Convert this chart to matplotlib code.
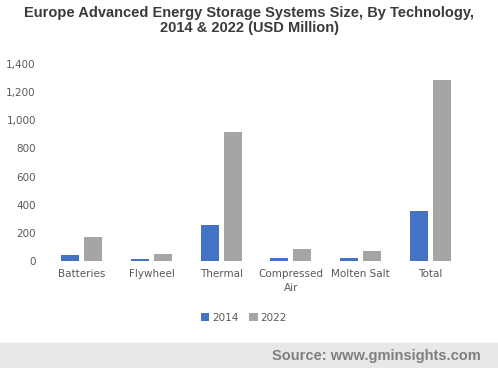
import numpy as np
import matplotlib
matplotlib.use("Agg")
import matplotlib.pyplot as plt

categories = ["Batteries", "Flywheel", "Thermal", "Compressed\nAir", "Molten Salt", "Total"]
values_2014 = [40, 12, 255, 19, 19, 352]
values_2022 = [170, 50, 914, 83, 71, 1285]

fig = plt.figure(figsize=(4.98, 3.68), dpi=100)
ax = fig.add_axes([47/498, 1 - 261/368, (465-47)/498, (261-64)/368])

x = np.arange(len(categories))
w = 0.26
ax.bar(x - w/2 - 0.035, values_2014, w, color="#4472C4", label="2014")
ax.bar(x + w/2 + 0.035, values_2022, w, color="#A5A5A5", label="2022")

ax.set_xlim(-0.5, len(categories) - 0.5)
ax.set_ylim(0, 1400)
ax.set_yticks(range(0, 1401, 200))
ax.set_yticklabels([f"{v:,}" for v in range(0, 1401, 200)])
ax.set_xticks(x)
ax.set_xticklabels(categories, linespacing=1.4)
for s in ax.spines.values():
    s.set_visible(False)
ax.tick_params(length=0, labelsize=7.5, colors="#595959", pad=6)
ax.tick_params(axis="y", pad=8)

fig.text(0.5, 0.985, "Europe Advanced Energy Storage Systems Size, By Technology,\n2014 & 2022 (USD Million)",
         ha="center", va="top", fontsize=10.5, fontweight="bold", color="#3A3A3A",
         family="Liberation Sans", linespacing=1.15)

fig.legend(loc="center", bbox_to_anchor=(0.49, 1 - 318/368), ncol=2, frameon=False,
           fontsize=7.5, handlelength=0.8, handleheight=0.8, columnspacing=1.0,
           handletextpad=0.3, labelcolor="#595959")

fig.patches.append(plt.Rectangle((0, 0), 1, 25/368, transform=fig.transFigure,
                                 color="#E8E8E8", zorder=0))
fig.text(0.965, 12/368, "Source: www.gminsights.com", ha="right", va="center",
         fontsize=10.5, fontweight="bold", color="#7F7F7F", family="Liberation Sans")

fig.savefig("out.png", dpi=100)
